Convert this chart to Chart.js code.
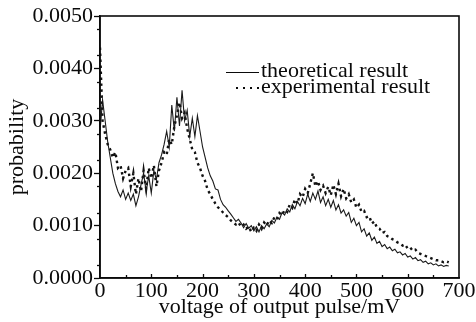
<!DOCTYPE html>
<html>
<head>
<meta charset="utf-8">
<script src="https://cdn.jsdelivr.net/npm/chart.js@4/dist/chart.umd.min.js"></script>
<style>
  html, body { margin: 0; padding: 0; background: #fff; }
  #wrap { width: 476px; height: 322px; }
</style>
</head>
<body>
<div id="wrap"><canvas id="pulseChart" width="476" height="322"></canvas></div>
<script>
// voltage of output pulse (mV), sampled every 5 mV
const voltages = [
  0, 5, 10, 15, 20, 25, 30, 35, 40, 45, 50, 55, 60, 65, 70, 75, 80, 85, 90, 95,
  100, 105, 110, 115, 120, 125, 130, 135, 140, 145, 150, 155, 160, 165, 170, 175, 180, 185, 190, 195,
  200, 205, 210, 215, 220, 225, 230, 235, 240, 245, 250, 255, 260, 265, 270, 275, 280, 285, 290, 295,
  300, 305, 310, 315, 320, 325, 330, 335, 340, 345, 350, 355, 360, 365, 370, 375, 380, 385, 390, 395,
  400, 405, 410, 415, 420, 425, 430, 435, 440, 445, 450, 455, 460, 465, 470, 475, 480, 485, 490, 495,
  500, 505, 510, 515, 520, 525, 530, 535, 540, 545, 550, 555, 560, 565, 570, 575, 580, 585, 590, 595,
  600, 605, 610, 615, 620, 625, 630, 635, 640, 645, 650, 655, 660, 665, 670, 675, 680
];

// theoretical result (solid line)
const theoretical = [
  0.0028, 0.0034, 0.0030, 0.0026, 0.0023, 0.0020, 0.0018, 0.00165, 0.00155, 0.00168, 0.0015, 0.00162, 0.00148, 0.0016, 0.00138, 0.00155, 0.00178, 0.0020, 0.00165, 0.00195,
  0.00162, 0.00205, 0.00188, 0.0022, 0.00235, 0.00255, 0.0028, 0.0025, 0.0033, 0.0028, 0.00345, 0.0029, 0.00358, 0.0030, 0.0032, 0.0027, 0.00305, 0.0027, 0.0031, 0.0028,
  0.0025, 0.0023, 0.0021, 0.00195, 0.00185, 0.0017, 0.00168, 0.0015, 0.0014, 0.00135, 0.00128, 0.00122, 0.00115, 0.00108, 0.00112, 0.00105, 0.00096, 0.00104, 0.00095, 0.0010,
  0.0009, 0.00098, 0.00088, 0.0010, 0.00094, 0.00103, 0.00098, 0.0011, 0.00105, 0.00116, 0.00112, 0.00125, 0.0012, 0.00132, 0.00126, 0.0014, 0.00132, 0.00146, 0.00138, 0.00152,
  0.00142, 0.0016, 0.00146, 0.00162, 0.0015, 0.00166, 0.00144, 0.00155, 0.00138, 0.0015, 0.00135, 0.00148, 0.0013, 0.0014, 0.00124, 0.0013, 0.00118, 0.00125, 0.00106, 0.00114,
  0.0010, 0.00106, 0.00088, 0.00094, 0.0008, 0.00086, 0.00072, 0.00078, 0.00066, 0.0007, 0.0006, 0.00064, 0.00056, 0.00059, 0.00052, 0.00055, 0.00048, 0.0005, 0.00044, 0.00047,
  0.0004, 0.00042, 0.00036, 0.00039, 0.00033, 0.00035, 0.0003, 0.00032, 0.00027, 0.00029, 0.00025, 0.00027, 0.00023, 0.00025, 0.00022, 0.00024, 0.00023
];

// experimental result (dotted line)
const experimental = [
  0.0044, 0.0030, 0.00275, 0.00255, 0.00245, 0.0023, 0.0024, 0.0021, 0.00215, 0.0019, 0.00205, 0.0021, 0.00175, 0.0020, 0.0016, 0.0019, 0.00165, 0.00205, 0.0017, 0.0021,
  0.0019, 0.00215, 0.00175, 0.00205, 0.0022, 0.0024, 0.00235, 0.00265, 0.00255, 0.0029, 0.0031, 0.00335, 0.00305, 0.00315, 0.00285, 0.00265, 0.00245, 0.0024, 0.0022, 0.0021,
  0.00195, 0.00185, 0.00168, 0.0016, 0.0015, 0.00142, 0.00135, 0.0013, 0.00125, 0.0012, 0.00116, 0.0011, 0.00106, 0.00102, 0.00106, 0.00098, 0.00102, 0.00094, 0.00098, 0.00088,
  0.00096, 0.0009, 0.00102, 0.00094, 0.00106, 0.0010, 0.0011, 0.00105, 0.00116, 0.00112, 0.00124, 0.0012, 0.0013, 0.00126, 0.0014, 0.00134, 0.0015, 0.00142, 0.0016, 0.00154,
  0.0017, 0.00162, 0.0018, 0.0020, 0.00175, 0.00185, 0.00168, 0.00176, 0.00162, 0.00174, 0.00158, 0.00178, 0.0016, 0.0018, 0.00156, 0.0017, 0.00152, 0.0016, 0.00144, 0.0015,
  0.00134, 0.0014, 0.00126, 0.00128, 0.00116, 0.00118, 0.00104, 0.00108, 0.00096, 0.00094, 0.00086, 0.00088, 0.0008, 0.00078, 0.00074, 0.00072, 0.00068, 0.00066, 0.00062, 0.00064,
  0.00056, 0.00058, 0.00052, 0.00054, 0.00048, 0.00046, 0.00044, 0.00042, 0.0004, 0.00038, 0.00036, 0.00034, 0.00034, 0.00032, 0.0003, 0.00032, 0.0003
];

const xTicks = [0, 100, 200, 300, 400, 500, 600, 700];
const yTicks = [0, 0.0005, 0.001, 0.0015, 0.002, 0.0025, 0.003, 0.0035, 0.004, 0.0045, 0.005];
const legendLabels = ['theoretical result', 'experimental result'];

const FONT = 'Liberation Serif';
const INK = '#0a0a0a';

function toPoints(ys) {
    return voltages.map((v, i) => ({ x: v, y: ys[i] }));
}

// frame, inner x ticks, minor y ticks and the in-plot legend
const decorPlugin = {
    id: 'decor',
    afterDraw(chart) {
        const ctx = chart.ctx;
        const area = chart.chartArea;
        const xs = chart.scales.x;
        const ys = chart.scales.y;
        ctx.save();
        ctx.strokeStyle = INK;
        ctx.lineWidth = 1.6;
        ctx.strokeRect(area.left, area.top, area.right - area.left, area.bottom - area.top);

        // x ticks pointing up into the plot, every 50 mV
        ctx.lineWidth = 1.3;
        for (let v = 50; v < 700; v += 50) {
            const px = Math.round(xs.getPixelForValue(v)) + 0.5;
            ctx.beginPath();
            ctx.moveTo(px, area.bottom);
            ctx.lineTo(px, area.bottom - (v % 100 === 0 ? 4 : 3));
            ctx.stroke();
        }
        // minor y ticks outside
        for (let i = 0; i < yTicks.length - 1; i++) {
            const py = Math.round(ys.getPixelForValue((yTicks[i] + yTicks[i + 1]) / 2)) + 0.5;
            ctx.beginPath();
            ctx.moveTo(area.left, py);
            ctx.lineTo(area.left - 3, py);
            ctx.stroke();
        }

        // legend
        ctx.font = '22px "' + FONT + '"';
        ctx.fillStyle = INK;
        ctx.textBaseline = 'middle';
        ctx.lineWidth = 1.1;
        ctx.beginPath();
        ctx.moveTo(226, 72.5);
        ctx.lineTo(259, 72.5);
        ctx.stroke();
        ctx.fillText(legendLabels[0], 261, 71);

        ctx.lineWidth = 2;
        ctx.setLineDash([2, 5]);
        ctx.beginPath();
        ctx.moveTo(236, 88);
        ctx.lineTo(259, 88);
        ctx.stroke();
        ctx.setLineDash([]);
        ctx.fillText(legendLabels[1], 261, 87);
        ctx.restore();
    }
};

const ctx = document.getElementById('pulseChart').getContext('2d');
new Chart(ctx, {
    type: 'line',
    data: {
        datasets: [
            {
                label: legendLabels[0],
                data: toPoints(theoretical),
                borderColor: '#1a1a1a',
                borderWidth: 1.1,
                pointRadius: 0,
                tension: 0
            },
            {
                label: legendLabels[1],
                data: toPoints(experimental),
                borderColor: '#111',
                borderWidth: 2.4,
                borderDash: [2.5, 3.5],
                pointRadius: 0,
                tension: 0
            }
        ]
    },
    options: {
        responsive: false,
        animation: false,
        devicePixelRatio: 1,
        layout: { padding: { top: 16, right: 17, left: 0, bottom: 0 } },
        plugins: {
            legend: { display: false },
            tooltip: { enabled: false }
        },
        scales: {
            x: {
                type: 'linear',
                min: 0,
                max: 700,
                afterBuildTicks: scale => { scale.ticks = xTicks.map(v => ({ value: v })); },
                afterFit: scale => { scale.height = 44; },
                ticks: { color: INK, font: { family: FONT, size: 22 }, padding: 0, maxRotation: 0 },
                grid: { display: true, drawOnChartArea: false, drawTicks: false },
                border: { color: INK, width: 1.6 },
                title: {
                    display: true,
                    text: 'voltage of output pulse/mV',
                    color: INK,
                    font: { family: FONT, size: 22 },
                    padding: { top: 0, bottom: 2 }
                }
            },
            y: {
                min: 0,
                max: 0.005,
                afterBuildTicks: scale => { scale.ticks = yTicks.map(v => ({ value: v })); },
                afterFit: scale => { scale.width = 100; },
                ticks: {
                    color: INK,
                    font: { family: FONT, size: 22 },
                    padding: 1,
                    callback: v => v.toFixed(4)
                },
                grid: { display: true, drawOnChartArea: false, drawTicks: true, tickLength: 6, tickColor: INK, tickWidth: 1.3 },
                border: { color: INK, width: 1.6 },
                title: {
                    display: true,
                    text: 'probability',
                    color: INK,
                    font: { family: FONT, size: 22 },
                    padding: { top: 4, bottom: 0 }
                }
            }
        }
    },
    plugins: [decorPlugin]
});
</script>
</body>
</html>
